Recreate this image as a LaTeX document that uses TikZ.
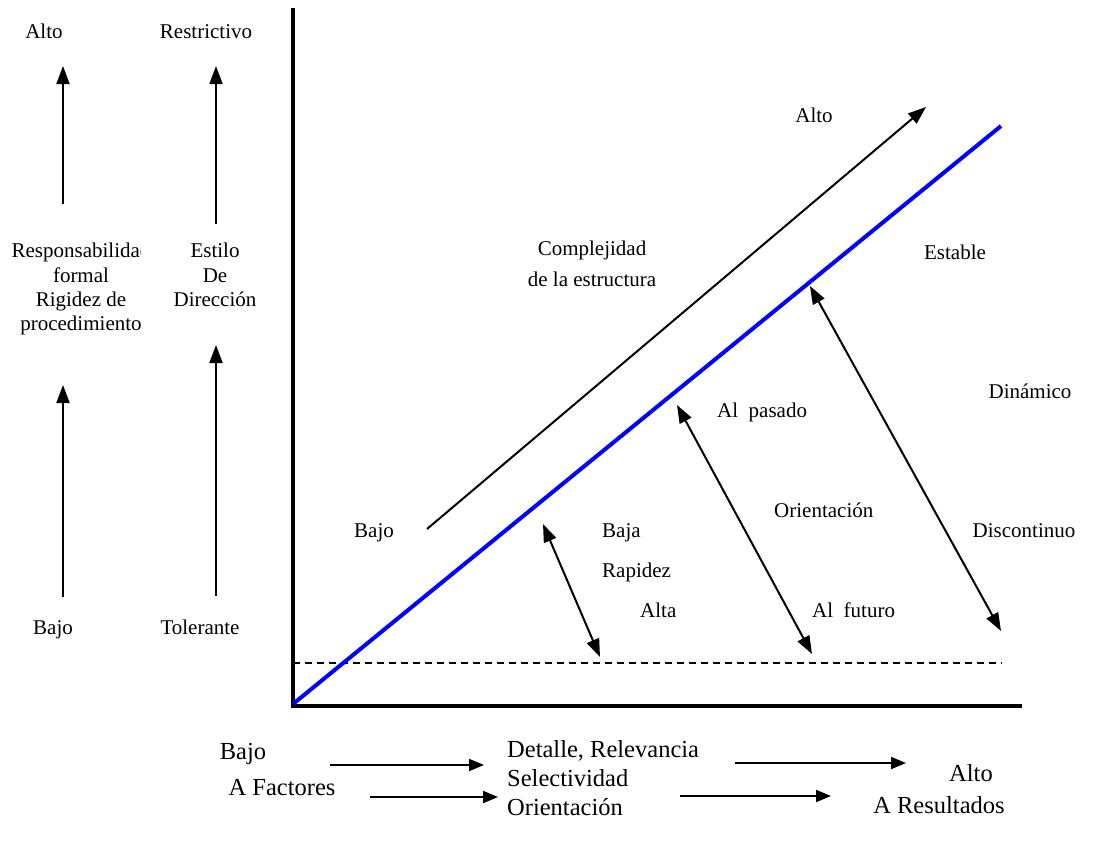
\documentclass[tikz,border=0pt]{standalone}
\usepackage{fontspec}
\setmainfont{Liberation Serif}
\usetikzlibrary{arrows.meta}
\begin{document}
\begin{tikzpicture}[x=1pt,y=-1pt,
  lbl/.style={inner sep=0pt, font=\fontsize{21}{24}\selectfont, anchor=base},
  big/.style={inner sep=0pt, font=\fontsize{24.5}{28}\selectfont, anchor=base},
  axisline/.style={line width=4.5pt},
  arr/.style={line width=2pt, -{Triangle[length=18pt,width=13pt]}},
  darr/.style={line width=2pt, {Triangle[length=18pt,width=13pt]}-{Triangle[length=18pt,width=13pt]}},
  barr/.style={line width=2pt, -{Triangle[length=15pt,width=12pt]}},
  guide/.style={line width=1.5pt, dash pattern=on 7pt off 5pt},
  diag/.style={line width=4pt, blue}]
\useasboundingbox (0,0) rectangle (1094,841);

% ---- left column: scales ----
\node[lbl] (altoL) at (44,38) {Alto};
\node[lbl] (restr) at (206,38) {Restrictivo};
\begin{scope}
  \clip (0,0) rectangle (140,841);
  \node[lbl] (resp1) at (81,257) {Responsabilidad};
  \node[lbl] (resp2) at (81,282) {formal};
  \node[lbl] (resp3) at (81,306) {Rigidez de};
  \node[lbl] (resp4) at (81,330) {procedimiento};
\end{scope}
\node[lbl] (est1) at (215,257) {Estilo};
\node[lbl] (est2) at (215,282) {De};
\node[lbl] (est3) at (215,306) {Dirección};
\node[lbl] (bajoL) at (53,634) {Bajo};
\node[lbl] (toler) at (200,634) {Tolerante};

\coordinate (a1s) at (63,204);  \coordinate (a1e) at (63,66);
\coordinate (a2s) at (216,224); \coordinate (a2e) at (216,66);
\coordinate (a3s) at (63,597);  \coordinate (a3e) at (63,385);
\coordinate (a4s) at (216,596); \coordinate (a4e) at (216,345);
\draw[arr] (a1s) -- (a1e);
\draw[arr] (a2s) -- (a2e);
\draw[arr] (a3s) -- (a3e);
\draw[arr] (a4s) -- (a4e);

% ---- main axes ----
\coordinate (origin) at (293,706);
\coordinate (ytop) at (293,8);
\coordinate (xend) at (1022,706);
\draw[axisline] (ytop) -- (origin |- xend) -- (xend);

% dashed threshold and blue diagonal
\coordinate (d1) at (293,663); \coordinate (d2) at (1002,663);
\draw[guide] (d1) -- (d2);
\coordinate (b1) at (293,704); \coordinate (b2) at (1001,126);
\draw[diag] (b1) -- (b2);

% complexity arrow
\coordinate (c1) at (427,529); \coordinate (c2) at (926,107);
\draw[arr] (c1) -- (c2);

% double arrows
\coordinate (r1) at (543,524); \coordinate (r2) at (600,657);
\coordinate (o1) at (677,405); \coordinate (o2) at (812,654);
\coordinate (e1) at (810,286); \coordinate (e2) at (1001,631);
\draw[darr] (r1) -- (r2);
\draw[darr] (o1) -- (o2);
\draw[darr] (e1) -- (e2);

% labels inside the chart
\node[lbl] (alto) at (814,122) {Alto};
\node[lbl] (comp1) at (592,255) {Complejidad};
\node[lbl] (comp2) at (592,286) {de la estructura};
\node[lbl] (estable) at (955,259) {Estable};
\node[lbl] (dinam) at (1030,398) {Dinámico};
\node[lbl, anchor=base west] (pasado) at (717,417) {Al\ \ pasado};
\node[lbl, anchor=base west] (orient) at (774,517) {Orientación};
\node[lbl] (discont) at (1024,537) {Discontinuo};
\node[lbl] (bajo) at (374,537) {Bajo};
\node[lbl, anchor=base west] (baja) at (602,537) {Baja};
\node[lbl, anchor=base west] (rapidez) at (602,577) {Rapidez};
\node[lbl, anchor=base west] (alta) at (640,617) {Alta};
\node[lbl, anchor=base west] (futuro) at (812,617) {Al\ \ futuro};

% ---- bottom scales ----
\node[big] (bajoB) at (243,759) {Bajo};
\node[big, anchor=base west] (detalle) at (507,757) {Detalle, Relevancia};
\node[big, anchor=base west] (select) at (507,786) {Selectividad};
\node[big] (altoB) at (971,781) {Alto};
\node[big] (factores) at (282,795) {A Factores};
\node[big, anchor=base west] (orientB) at (507,815) {Orientación};
\node[big] (result) at (939,813) {A Resultados};

\coordinate (f1) at (330,765); \coordinate (f2) at (484,765);
\coordinate (f3) at (735,763); \coordinate (f4) at (906,763);
\coordinate (g1) at (370,797); \coordinate (g2) at (498,797);
\coordinate (g3) at (680,796); \coordinate (g4) at (831,796);
\draw[barr] (f1) -- (f2);
\draw[barr] (f3) -- (f4);
\draw[barr] (g1) -- (g2);
\draw[barr] (g3) -- (g4);
\end{tikzpicture}
\end{document}
